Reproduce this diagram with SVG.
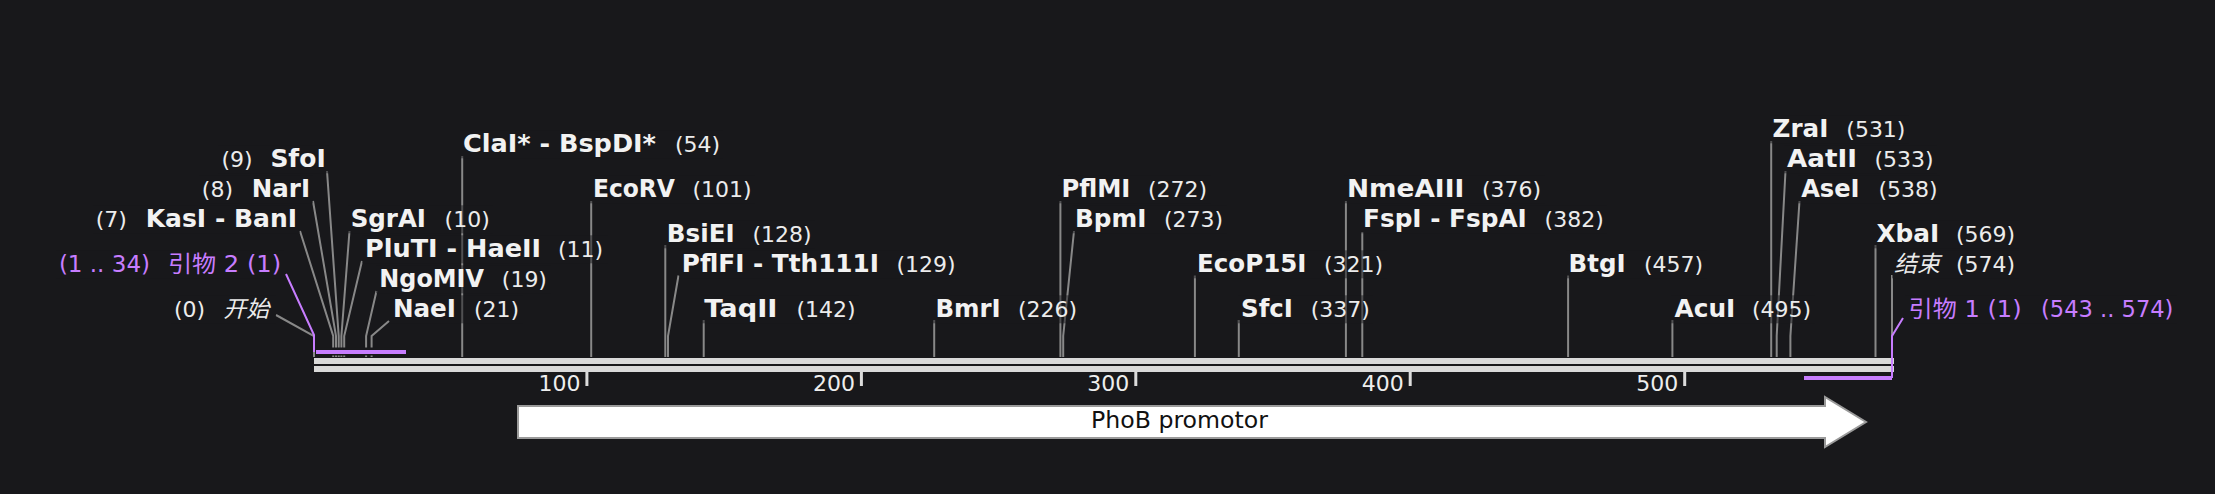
<svg xmlns="http://www.w3.org/2000/svg" width="2215" height="494" viewBox="0 0 2215 494">
<style>
text { font-family: "DejaVu Sans", "Noto Sans CJK SC", sans-serif; }
.n { font-size: 24px; font-weight: bold; fill: #f2f2f2; }
.p { font-size: 22px; fill: #ececec; }
.pr { font-size: 23px; fill: #c77dff; }
.cj { font-size: 23px; font-style: italic; fill: #ececec; }
.bg { fill: #18181b; fill-opacity: 0.5; }
.ln { stroke: #888888; stroke-width: 2; fill: none; }
.pl { stroke: #c77dff; stroke-width: 2; fill: none; }
.bb { fill: #d9d9d9; }
.tk { fill: #dcdcdc; }
.tl { font-size: 22px; fill: #eeeeee; text-anchor: end; }
</style>
<rect x="0" y="0" width="2215" height="494" fill="#18181b"/>

<g id="backbone">
  <rect class="bb" x="314" y="358" width="1580" height="6"/>
  <rect class="bb" x="314" y="366" width="1580" height="6"/>
  <rect class="tk" x="585.4" y="372" width="3" height="14"/>
  <rect class="tk" x="859.9" y="372" width="3" height="14"/>
  <rect class="tk" x="1134.3" y="372" width="3" height="14"/>
  <rect class="tk" x="1408.7" y="372" width="3" height="14"/>
  <rect class="tk" x="1683.2" y="372" width="3" height="14"/>
  <text class="tl" x="580.4" y="391">100</text>
  <text class="tl" x="854.9" y="391">200</text>
  <text class="tl" x="1129.3" y="391">300</text>
  <text class="tl" x="1403.7" y="391">400</text>
  <text class="tl" x="1678.2" y="391">500</text>
</g>

<g id="connectors">
  <polyline class="ln" points="276,315 314,336 314,357"/>
  <polyline class="ln" points="300,231 333.2,336 333.2,357"/>
  <polyline class="ln" points="313,201 336,336 336,357"/>
  <polyline class="ln" points="327,171 338.7,336 338.7,357"/>
  <polyline class="ln" points="349.5,231 341.4,336 341.4,357"/>
  <polyline class="ln" points="362,261 344.2,336 344.2,357"/>
  <polyline class="ln" points="376.5,291 366.1,336 366.1,357"/>
  <polyline class="ln" points="389,321 371.6,336 371.6,357"/>
  <polyline class="ln" points="462.2,156 462.2,357"/>
  <polyline class="ln" points="591.2,201 591.2,357"/>
  <polyline class="ln" points="665.3,245 665.3,357"/>
  <polyline class="ln" points="678.5,275.5 668,336 668,357"/>
  <polyline class="ln" points="703.7,320 703.7,357"/>
  <polyline class="ln" points="934.2,320 934.2,357"/>
  <polyline class="ln" points="1060.4,201 1060.4,357"/>
  <polyline class="ln" points="1074,231 1063.2,336 1063.2,357"/>
  <polyline class="ln" points="1194.9,275.5 1194.9,357"/>
  <polyline class="ln" points="1238.8,320 1238.8,357"/>
  <polyline class="ln" points="1345.9,201 1345.9,357"/>
  <polyline class="ln" points="1362.3,232 1362.3,357"/>
  <polyline class="ln" points="1568.1,275.5 1568.1,357"/>
  <polyline class="ln" points="1672.4,320 1672.4,357"/>
  <polyline class="ln" points="1771.2,141 1771.2,357"/>
  <polyline class="ln" points="1785.5,171 1776.7,336 1776.7,357"/>
  <polyline class="ln" points="1799.5,201 1790.4,336 1790.4,357"/>
  <polyline class="ln" points="1875.5,245 1875.5,357"/>
  <polyline class="ln" points="1892,275 1892,357"/>
  <polyline class="pl" points="286,274 314,335 314,352"/>
  <polyline class="pl" points="1903,318 1892,336 1892,378"/>
</g>

<g id="primer-2-bar">
  <rect x="315.5" y="347.5" width="92" height="8" fill="#18181b"/>
  <rect x="316" y="350" width="90" height="4" fill="#c77dff"/>
</g>
<g id="primer-1-bar">
  <rect x="1804" y="376" width="88" height="4" fill="#c77dff"/>
</g>

<g id="phob-promotor">
  <polygon points="518,406 1825,406 1825,397 1866,422 1825,447 1825,438 518,438" fill="#ffffff" stroke="#9a9a9a" stroke-width="2"/>
  <text x="1091" y="428.3" style="font-size:23px;fill:#111111" textLength="177" lengthAdjust="spacingAndGlyphs">PhoB promotor</text>
</g>

<g id="label-start">
  <rect class="bg" x="171" y="295.3" width="105" height="28"/>
  <text class="p" x="173.9" y="317.3">(0)</text>
  <text class="cj" x="223.2" y="317.3">开始</text>
</g>
<g id="label-primer-2">
  <rect class="bg" x="56" y="250.3" width="228" height="28"/>
  <text class="pr" x="58.9" y="272.3" textLength="91.1" lengthAdjust="spacingAndGlyphs">(1 .. 34)</text>
  <text class="pr" x="167.9" y="272.3" textLength="113.2" lengthAdjust="spacingAndGlyphs">引物 2 (1)</text>
</g>
<g id="label-KasI">
  <rect class="bg" x="93" y="205.3" width="207" height="28"/>
  <text class="p" x="95.7" y="227.3">(7)</text>
  <text class="n" x="145.7" y="227.3" textLength="151.4" lengthAdjust="spacingAndGlyphs">KasI - BanI</text>
</g>
<g id="label-NarI">
  <rect class="bg" x="199" y="175.3" width="114" height="28"/>
  <text class="p" x="201.8" y="197.3">(8)</text>
  <text class="n" x="251.8" y="197.3" textLength="58.2" lengthAdjust="spacingAndGlyphs">NarI</text>
</g>
<g id="label-SfoI">
  <rect class="bg" x="218" y="145.3" width="111" height="28"/>
  <text class="p" x="221.4" y="167.3">(9)</text>
  <text class="n" x="270.4" y="167.3" textLength="55.3" lengthAdjust="spacingAndGlyphs">SfoI</text>
</g>
<g id="label-SgrAI">
  <rect class="bg" x="348" y="205.3" width="145" height="28"/>
  <text class="n" x="350.7" y="227.3" textLength="75.3" lengthAdjust="spacingAndGlyphs">SgrAI</text>
  <text class="p" x="444.6" y="227.3">(10)</text>
</g>
<g id="label-PluTI">
  <rect class="bg" x="362" y="235.3" width="246" height="28"/>
  <text class="n" x="365" y="257.3" textLength="176" lengthAdjust="spacingAndGlyphs">PluTI - HaeII</text>
  <text class="p" x="557.9" y="257.3">(11)</text>
</g>
<g id="label-NgoMIV">
  <rect class="bg" x="376" y="265.3" width="175" height="28"/>
  <text class="n" x="379.3" y="287.3" textLength="104.7" lengthAdjust="spacingAndGlyphs">NgoMIV</text>
  <text class="p" x="501.8" y="287.3">(19)</text>
</g>
<g id="label-NaeI">
  <rect class="bg" x="390" y="295.3" width="133" height="28"/>
  <text class="n" x="392.9" y="317.3" textLength="63.1" lengthAdjust="spacingAndGlyphs">NaeI</text>
  <text class="p" x="474" y="317.3">(21)</text>
</g>
<g id="label-ClaI">
  <rect class="bg" x="460" y="130.3" width="263" height="28"/>
  <text class="n" x="462.9" y="152.3" textLength="193.1" lengthAdjust="spacingAndGlyphs">ClaI* - BspDI*</text>
  <text class="p" x="675" y="152.3">(54)</text>
</g>
<g id="label-EcoRV">
  <rect class="bg" x="590" y="175.3" width="165" height="28"/>
  <text class="n" x="592.9" y="197.3" textLength="82.1" lengthAdjust="spacingAndGlyphs">EcoRV</text>
  <text class="p" x="692.5" y="197.3">(101)</text>
</g>
<g id="label-BsiEI">
  <rect class="bg" x="664" y="220.3" width="151" height="28"/>
  <text class="n" x="666.8" y="242.3" textLength="67.8" lengthAdjust="spacingAndGlyphs">BsiEI</text>
  <text class="p" x="752.5" y="242.3">(128)</text>
</g>
<g id="label-PflFI">
  <rect class="bg" x="679" y="250.3" width="280" height="28"/>
  <text class="n" x="681.8" y="272.3" textLength="197.2" lengthAdjust="spacingAndGlyphs">PflFI - Tth111I</text>
  <text class="p" x="896.4" y="272.3">(129)</text>
</g>
<g id="label-TaqII">
  <rect class="bg" x="701" y="295.3" width="158" height="28"/>
  <text class="n" x="704.3" y="317.3" textLength="73.2" lengthAdjust="spacingAndGlyphs">TaqII</text>
  <text class="p" x="796.4" y="317.3">(142)</text>
</g>
<g id="label-BmrI">
  <rect class="bg" x="932" y="295.3" width="148" height="28"/>
  <text class="n" x="935.4" y="317.3" textLength="65.3" lengthAdjust="spacingAndGlyphs">BmrI</text>
  <text class="p" x="1017.9" y="317.3">(226)</text>
</g>
<g id="label-PflMI">
  <rect class="bg" x="1058" y="175.3" width="153" height="28"/>
  <text class="n" x="1061.4" y="197.3" textLength="69" lengthAdjust="spacingAndGlyphs">PflMI</text>
  <text class="p" x="1148" y="197.3">(272)</text>
</g>
<g id="label-BpmI">
  <rect class="bg" x="1072" y="205.3" width="155" height="28"/>
  <text class="n" x="1075" y="227.3" textLength="71.4" lengthAdjust="spacingAndGlyphs">BpmI</text>
  <text class="p" x="1164" y="227.3">(273)</text>
</g>
<g id="label-EcoP15I">
  <rect class="bg" x="1194" y="250.3" width="193" height="28"/>
  <text class="n" x="1197" y="272.3" textLength="109.4" lengthAdjust="spacingAndGlyphs">EcoP15I</text>
  <text class="p" x="1324" y="272.3">(321)</text>
</g>
<g id="label-SfcI">
  <rect class="bg" x="1238" y="295.3" width="135" height="28"/>
  <text class="n" x="1241" y="317.3" textLength="51.9" lengthAdjust="spacingAndGlyphs">SfcI</text>
  <text class="p" x="1310.7" y="317.3">(337)</text>
</g>
<g id="label-NmeAIII">
  <rect class="bg" x="1344" y="175.3" width="201" height="28"/>
  <text class="n" x="1347" y="197.3" textLength="117.3" lengthAdjust="spacingAndGlyphs">NmeAIII</text>
  <text class="p" x="1482" y="197.3">(376)</text>
</g>
<g id="label-FspI">
  <rect class="bg" x="1360" y="205.3" width="247" height="28"/>
  <text class="n" x="1363" y="227.3" textLength="163.8" lengthAdjust="spacingAndGlyphs">FspI - FspAI</text>
  <text class="p" x="1544.6" y="227.3">(382)</text>
</g>
<g id="label-BtgI">
  <rect class="bg" x="1566" y="250.3" width="141" height="28"/>
  <text class="n" x="1568.6" y="272.3" textLength="57" lengthAdjust="spacingAndGlyphs">BtgI</text>
  <text class="p" x="1643.9" y="272.3">(457)</text>
</g>
<g id="label-AcuI">
  <rect class="bg" x="1671" y="295.3" width="144" height="28"/>
  <text class="n" x="1674.5" y="317.3" textLength="60.8" lengthAdjust="spacingAndGlyphs">AcuI</text>
  <text class="p" x="1752" y="317.3">(495)</text>
</g>
<g id="label-ZraI">
  <rect class="bg" x="1770" y="115.3" width="139" height="28"/>
  <text class="n" x="1772.6" y="137.3" textLength="55.7" lengthAdjust="spacingAndGlyphs">ZraI</text>
  <text class="p" x="1846.3" y="137.3">(531)</text>
</g>
<g id="label-AatII">
  <rect class="bg" x="1784" y="145.3" width="153" height="28"/>
  <text class="n" x="1787" y="167.3" textLength="69.9" lengthAdjust="spacingAndGlyphs">AatII</text>
  <text class="p" x="1874.5" y="167.3">(533)</text>
</g>
<g id="label-AseI">
  <rect class="bg" x="1798" y="175.3" width="142" height="28"/>
  <text class="n" x="1801.2" y="197.3" textLength="58.4" lengthAdjust="spacingAndGlyphs">AseI</text>
  <text class="p" x="1878.5" y="197.3">(538)</text>
</g>
<g id="label-XbaI">
  <rect class="bg" x="1873" y="220.3" width="146" height="28"/>
  <text class="n" x="1876.5" y="242.3" textLength="62.8" lengthAdjust="spacingAndGlyphs">XbaI</text>
  <text class="p" x="1956" y="242.3">(569)</text>
</g>
<g id="label-end">
  <rect class="bg" x="1892" y="250.3" width="127" height="28"/>
  <text class="cj" x="1894" y="272.3">结束</text>
  <text class="p" x="1956" y="272.3">(574)</text>
</g>
<g id="label-primer-1">
  <rect class="bg" x="1905" y="295.3" width="272" height="28"/>
  <text class="pr" x="1908.6" y="317.3" textLength="113" lengthAdjust="spacingAndGlyphs">引物 1 (1)</text>
  <text class="pr" x="2041" y="317.3" textLength="132.4" lengthAdjust="spacingAndGlyphs">(543 .. 574)</text>
</g>
</svg>
